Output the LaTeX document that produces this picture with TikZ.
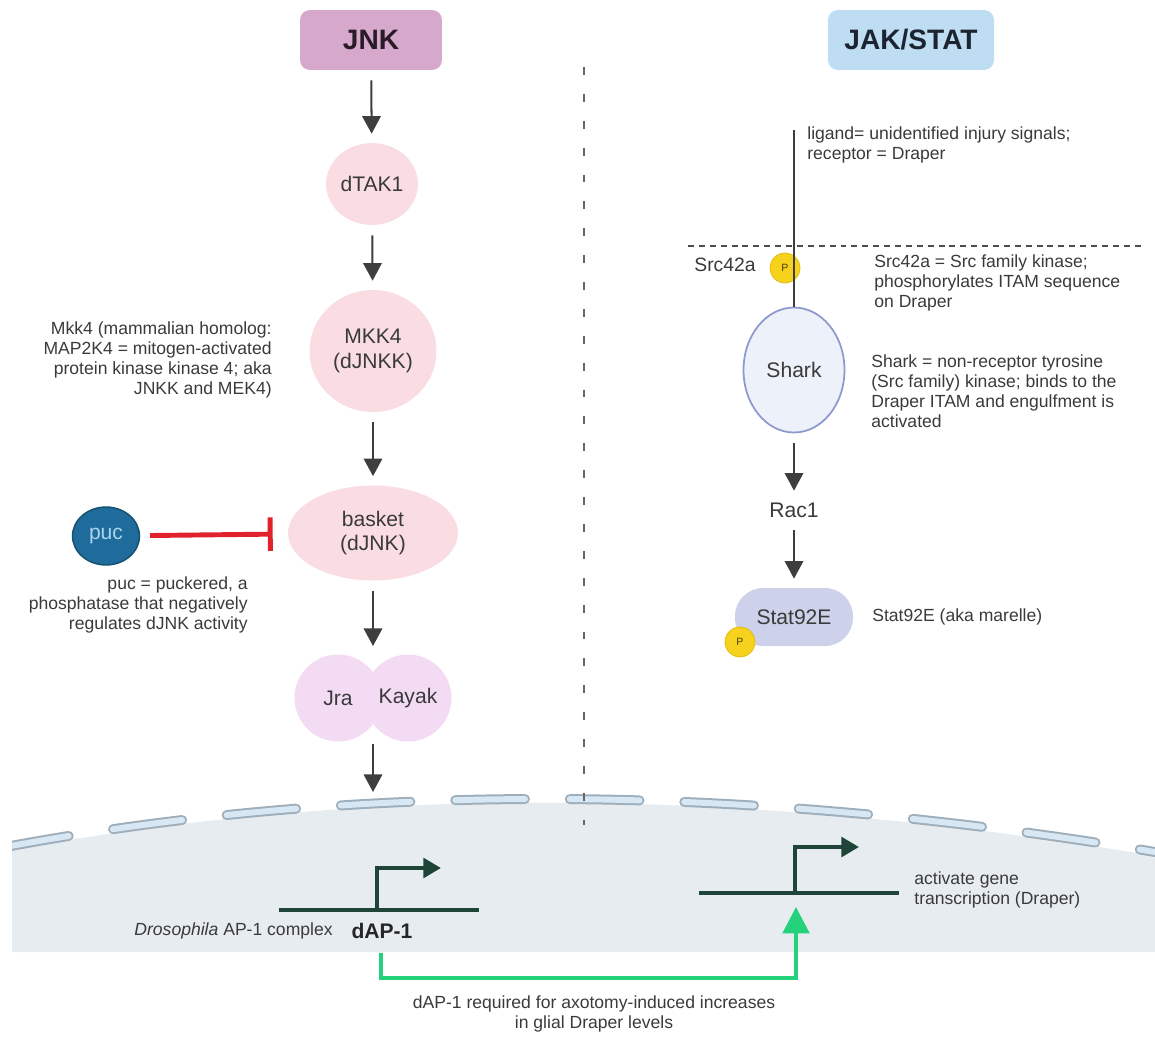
\documentclass[tikz,border=0pt]{standalone}
\usepackage{fontspec}
\setmainfont{Liberation Sans}
\usetikzlibrary{arrows.meta,shapes.geometric}

\definecolor{jnkbox}{HTML}{D6A8CB}
\definecolor{jnktext}{HTML}{2A1B28}
\definecolor{jakbox}{HTML}{BEDCF2}
\definecolor{jaktext}{HTML}{1B2430}
\definecolor{kinase}{HTML}{FADDE3}
\definecolor{dimer}{HTML}{F3DBF4}
\definecolor{pucfill}{HTML}{1F6B9B}
\definecolor{pucedge}{HTML}{15506F}
\definecolor{puctext}{HTML}{A9D4EE}
\definecolor{sharkfill}{HTML}{EDF1FA}
\definecolor{sharkedge}{HTML}{8E9ACD}
\definecolor{statfill}{HTML}{CDD2EA}
\definecolor{phosfill}{HTML}{F6D21C}
\definecolor{phosedge}{HTML}{E3B70C}
\definecolor{arrowgray}{HTML}{3E3E3E}
\definecolor{notegray}{HTML}{3A3A3A}
\definecolor{inhibred}{HTML}{E1222C}
\definecolor{genegreen}{HTML}{1E4538}
\definecolor{upgreen}{HTML}{24D27B}
\definecolor{nucfill}{HTML}{E7ECF1}
\definecolor{poreedge}{HTML}{9EAEBB}
\definecolor{porefill}{HTML}{D7E8F4}

\tikzset{
  titlebox/.style={rectangle, rounded corners=5.7pt, minimum width=2.84cm, minimum height=1.2cm,
    font=\fontsize{16}{19}\selectfont\bfseries},
  prot/.style={ellipse, inner sep=0pt, align=center, text=notegray, font=\fontsize{12}{14}\selectfont},
  kin/.style={prot, fill=kinase},
  half/.style={circle, fill=dimer, minimum size=1.74cm, inner sep=0pt, text=notegray,
    font=\fontsize{12}{14}\selectfont},
  phos/.style={circle, fill=phosfill, draw=phosedge, minimum size=0.6cm, inner sep=0pt,
    text=black!70!phosfill, font=\fontsize{6}{7}\selectfont},
  note/.style={inner sep=0pt, text=notegray, font=\fontsize{10}{11.4}\selectfont},
  act/.style={draw=arrowgray, line width=1.15pt, -{Triangle[length=10pt,width=10.5pt]},
    shorten <=0.2cm, shorten >=0.18cm},
  gene/.style={draw=genegreen, line width=2.8pt},
}

\begin{document}
\begin{tikzpicture}[x=0.02cm, y=-0.02cm]
  \useasboundingbox (0,0) rectangle (1155,1038);

  % nucleus
  \fill[nucfill] (12,850) .. controls (361,785) and (743,787) .. (1155,856)
    -- (1155,952) -- (12,952) -- cycle;
  \begin{scope}
    \clip (12,700) rectangle (1155,960);
    \draw[poreedge, line width=5.67pt, line cap=round, dash pattern=on 39.7pt off 25.5pt]
      (0,848) .. controls (355,781) and (743,783) .. (1155,852);
    \draw[porefill, line width=3.4pt, line cap=round, dash pattern=on 39.7pt off 25.5pt]
      (0,848) .. controls (355,781) and (743,783) .. (1155,852);
  \end{scope}

  \draw[black!60, line width=0.85pt, dash pattern=on 4.5pt off 10.8pt] (584,67) -- (584,825);
  \draw[black!70, line width=1.4pt, dash pattern=on 3.4pt off 2.8pt] (688,246) -- (1145,246);

  % JNK side
  \node[titlebox, fill=jnkbox, text=jnktext] (jnk) at (371,40) {JNK};
  \node[kin, minimum width=1.84cm, minimum height=1.64cm] (dtak) at (372,184) {dTAK1};
  \node[kin, minimum width=2.54cm, minimum height=2.44cm] (mkk) at (373,351) {MKK4\\(dJNKK)};
  \node[kin, minimum width=3.4cm, minimum height=1.9cm] (bsk) at (373,533) {basket\\(dJNK)};
  \node[prot, fill=pucfill, draw=pucedge, line width=0.8pt, text=puctext,
    minimum width=1.34cm, minimum height=1.16cm] (puc) at (106,536) {puc};
  \node[half] (jra) at (338,698) {Jra};
  \node[half] (kay) at (408,698) {Kayak};
  \coordinate (jktop) at (373,655);
  \coordinate (jkbot) at (373,744);
  \coordinate (env) at (373,792);

  \node[note, anchor=east, align=right] (mkknote) at (272,360)
    {Mkk4 (mammalian homolog:\\MAP2K4 = mitogen-activated\\protein kinase kinase 4; aka\\JNKK and MEK4)};
  \node[note, anchor=east, align=right] (pucnote) at (248,605)
    {puc = puckered, a\\phosphatase that negatively\\regulates dJNK activity};

  \draw[act] (jnk) -- (dtak);
  \draw[act] (dtak) -- (mkk);
  \draw[act] (mkk) -- (bsk);
  \draw[act] (bsk) -- (jktop);
  \draw[act, shorten <=0cm, shorten >=0cm] (jkbot) -- (env);
  \draw[inhibred, line width=2.8pt, -{Bar[width=19pt]}, shorten <=0.2cm, shorten >=0.3cm] (puc) -- (bsk);

  % JAK/STAT side
  \node[titlebox, fill=jakbox, text=jaktext, minimum width=3.32cm] (jak) at (911,40) {JAK/STAT};
  \coordinate (lig) at (794,130);
  \node[phos] (p1) at (785,268) {P};
  \node[prot, fill=sharkfill, draw=sharkedge, line width=1pt,
    minimum width=2.02cm, minimum height=2.5cm] (shark) at (794,370) {Shark};
  \node[inner sep=0pt, text=notegray, font=\fontsize{12}{14}\selectfont, minimum height=0.4cm] (rac) at (794,510) {Rac1};
  \node[rectangle, rounded corners=16pt, fill=statfill, text=notegray, font=\fontsize{12}{14}\selectfont,
    minimum width=2.36cm, minimum height=1.16cm] (stat) at (794,617) {Stat92E};
  \node[phos] (p2) at (740,642) {P};

  \draw[arrowgray, line width=1.15pt] (lig) -- (shark);
  \draw[act] (shark) -- (rac);
  \draw[act] (rac) -- (stat);

  \node[note, anchor=west, align=left] (ligand) at (807,145)
    {ligand= unidentified injury signals;\\receptor = Draper};
  \node[note, font=\fontsize{11}{13}\selectfont] (srclab) at (725,265) {Src42a};
  \node[note, anchor=west, align=left] (srcnote) at (874,283)
    {Src42a = Src family kinase;\\phosphorylates ITAM sequence\\on Draper};
  \node[note, anchor=west, align=left] (sharknote) at (871,391)
    {Shark = non-receptor tyrosine\\(Src family) kinase; binds to the\\Draper ITAM and engulfment is\\activated};
  \node[note, anchor=west] (statnote) at (872,617) {Stat92E (aka marelle)};

  % genes in the nucleus
  \coordinate (g1l) at (279,910);
  \coordinate (g1r) at (479,910);
  \coordinate (g1p) at (377,910);
  \coordinate (g1c) at (377,868);
  \coordinate (g1t) at (441,868);
  \draw[gene] (g1l) -- (g1r);
  \draw[gene, -{Triangle[length=10pt,width=11pt]}] (g1p) -- (g1c) -- (g1t);

  \coordinate (g2l) at (699,893);
  \coordinate (g2r) at (899,893);
  \coordinate (g2p) at (795,893);
  \coordinate (g2c) at (795,847);
  \coordinate (g2t) at (859,847);
  \draw[gene] (g2l) -- (g2r);
  \draw[gene, -{Triangle[length=10pt,width=11pt]}] (g2p) -- (g2c) -- (g2t);

  \node[note, anchor=east] (droso) at (333,931) {\textit{Drosophila} AP-1 complex};
  \node[inner sep=0pt, text=black!85, font=\fontsize{12}{14}\selectfont\bfseries] (dap) at (382,931) {dAP-1};
  \node[note, anchor=west, align=left] (genenote) at (914,890) {activate gene\\transcription (Draper)};

  \coordinate (gs) at (381,953);
  \coordinate (gb) at (381,978);
  \coordinate (gt) at (796,907);
  \draw[upgreen, line width=2.3pt, -{Triangle[length=15pt,width=15pt]}] (gs) -- (gb) -| (gt);

  \node[note, align=center] (reqnote) at (594,1014)
    {dAP-1 required for axotomy-induced increases\\in glial Draper levels};
\end{tikzpicture}
\end{document}
